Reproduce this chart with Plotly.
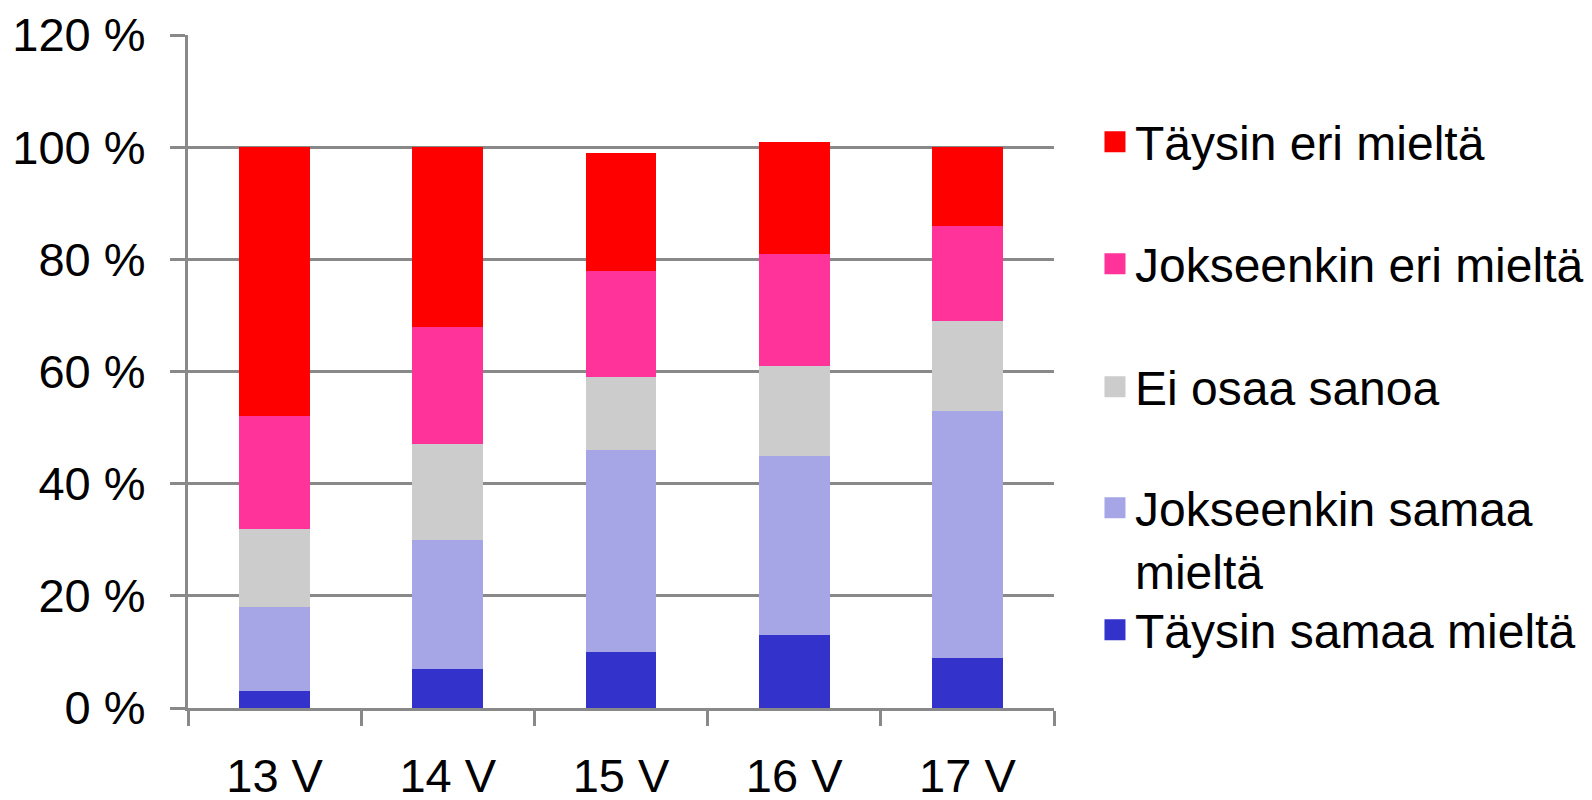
import plotly.graph_objects as go

categories = ["13 V", "14 V", "15 V", "16 V", "17 V"]
taysin_samaa = [3, 7, 10, 13, 9]
jokseenkin_samaa = [15, 23, 36, 32, 44]
ei_osaa = [14, 17, 13, 16, 16]
jokseenkin_eri = [20, 21, 19, 20, 17]
taysin_eri = [48, 32, 21, 20, 14]

series = [
    ("Täysin samaa mieltä", taysin_samaa, "#3333CC", "legend5"),
    ("Jokseenkin samaa<br>mieltä", jokseenkin_samaa, "#A6A6E6", "legend4"),
    ("Ei osaa sanoa", ei_osaa, "#CCCCCC", "legend3"),
    ("Jokseenkin eri mieltä", jokseenkin_eri, "#FF3399", "legend2"),
    ("Täysin eri mieltä", taysin_eri, "#FF0000", "legend"),
]

FONT = "Arial, Liberation Sans, sans-serif"
GRAY = "#898989"
FS = 47
LFS = 48
OFF = 8  # page body margin

fig = go.Figure()
for name, vals, col, lg in series:
    fig.add_trace(go.Bar(x=categories, y=vals, name=name, marker=dict(color=col, line=dict(width=0)),
                         width=0.408, showlegend=False))
for name, vals, col, lg in series:
    fig.add_trace(go.Scatter(x=[None], y=[None], mode="markers", name=name, legend=lg,
                             marker=dict(symbol="square", size=16, color=col, line=dict(color=col, width=5)),
                             showlegend=True))

W, H = 1592, 800
L, R, T, B = 187.5 - OFF, 1054 - OFF, 35 - OFF, 708 - OFF
pw, ph = R - L, B - T

def px(x):
    return (x - L) / pw

def py(y):
    return (B - y) / ph

def leg(yc, valign="middle"):
    return dict(x=px(1115 - OFF - 20), y=py(yc), xanchor="left", yanchor="middle", bgcolor="rgba(0,0,0,0)",
                borderwidth=0, font=dict(family=FONT, size=LFS, color="black"), valign=valign,
                itemwidth=30)

fig.update_layout(
    width=W, height=H,
    margin=dict(l=L, r=W - R, t=T, b=H - B, autoexpand=False),
    barmode="stack",
    paper_bgcolor="white", plot_bgcolor="white",
    font=dict(family=FONT, size=FS, color="black"),
    legend=leg(143 - OFF - 1),
    legend2=leg(265 - OFF - 1),
    legend3=leg(388 - OFF - 1),
    legend4=leg(531, "top"),
    legend5=leg(631 - OFF - 1),
    xaxis=dict(type="category", range=[-0.5, 4.5], showline=True, linecolor=GRAY, linewidth=3,
               ticks="outside", tickson="boundaries", ticklen=15, tickwidth=3, tickcolor=GRAY,
               tickfont=dict(family=FONT, size=FS, color="black"), showgrid=False, automargin=False,
               ticklabelstandoff=25),
    yaxis=dict(range=[0, 120], tick0=0, dtick=20, ticksuffix=" %", showline=True, linecolor=GRAY,
               linewidth=3, ticks="outside", ticklen=15, tickwidth=3, tickcolor=GRAY,
               showgrid=True, gridcolor=GRAY, gridwidth=3, zeroline=False,
               tickfont=dict(family=FONT, size=FS, color="black"), automargin=False,
               ticklabelstandoff=15),
)

fig.write_html("out.html")
